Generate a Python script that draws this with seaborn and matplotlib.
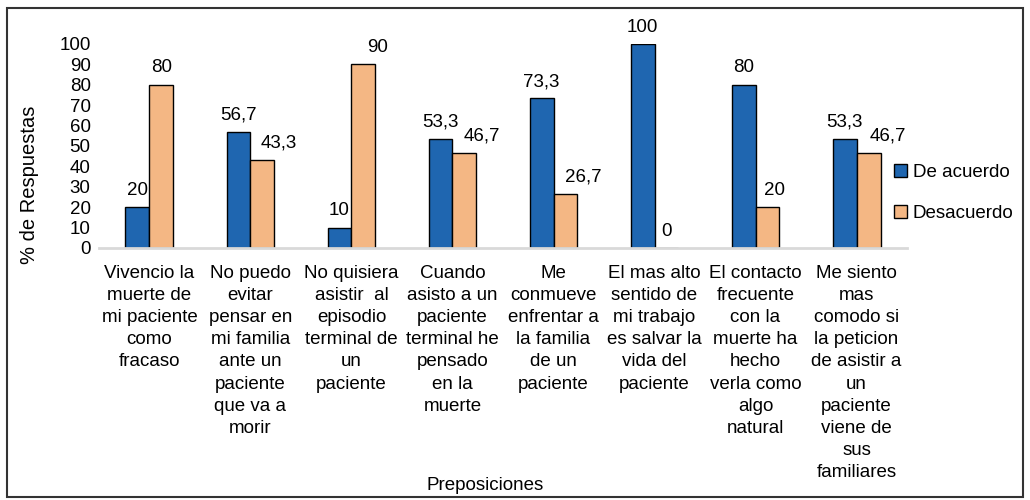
import matplotlib
matplotlib.use("Agg")
import matplotlib.pyplot as plt
from matplotlib.patches import Rectangle
import seaborn as sns
import pandas as pd

# data
categories = [
    "Vivencio la\nmuerte de\nmi paciente\ncomo\nfracaso",
    "No puedo\nevitar\npensar en\nmi familia\nante un\npaciente\nque va a\nmorir",
    "No quisiera\nasistir  al\nepisodio\nterminal de\nun\npaciente",
    "Cuando\nasisto a un\npaciente\nterminal he\npensado\nen la\nmuerte",
    "Me\nconmueve\nenfrentar a\nla familia\nde un\npaciente",
    "El mas alto\nsentido de\nmi trabajo\nes salvar la\nvida del\npaciente",
    "El contacto\nfrecuente\ncon la\nmuerte ha\nhecho\nverla como\nalgo\nnatural",
    "Me siento\nmas\ncomodo si\nla peticion\nde asistir a\nun\npaciente\nviene de\nsus\nfamiliares",
]
de_acuerdo = [20, 56.7, 10, 53.3, 73.3, 100, 80, 53.3]
desacuerdo = [80, 43.3, 90, 46.7, 26.7, 0, 20, 46.7]
series_names = ["De acuerdo", "Desacuerdo"]
colors = ["#1f66b0", "#f4b784"]

# horizontal nudge (pixels) of the value labels, as in the original
label_dx = [[0] * 8, [0, 16, 14, 17, 18, 0, 7, 19]]

df = pd.DataFrame({
    "cat": categories * 2,
    "serie": [series_names[0]] * len(categories) + [series_names[1]] * len(categories),
    "valor": de_acuerdo + desacuerdo,
})

sns.set_style("white")
plt.rcParams["font.family"] = ["Liberation Sans", "DejaVu Sans"]
plt.rcParams["font.size"] = 13.5
plt.rcParams["text.color"] = "black"
plt.rcParams["xtick.color"] = "black"
plt.rcParams["ytick.color"] = "black"

fig = plt.figure(figsize=(10.3, 5), dpi=100)
ax = fig.add_axes([0.0961, 0.504, 0.7845, 0.408])

sns.barplot(data=df, x="cat", y="valor", hue="serie", order=categories,
            hue_order=series_names, palette=colors, width=0.475,
            edgecolor="black", linewidth=1, saturation=1, ax=ax)

# value labels above the bars
for cont, dxs in zip(ax.containers, label_dx):
    for bar, v, dx in zip(cont.patches, cont.datavalues, dxs):
        lab = f"{v:g}".replace(".", ",")
        ax.annotate(lab, (bar.get_x() + bar.get_width() / 2, bar.get_height()),
                    xytext=(dx * 0.72, 6), textcoords="offset points",
                    ha="center", va="bottom", fontsize=13.5, annotation_clip=False)

ax.set_ylim(0, 100)
ax.set_yticks(range(0, 101, 10))
ax.set_xlim(-0.5, len(categories) - 0.5)
ax.set_xlabel("")
ax.set_ylabel("")
ax.tick_params(axis="both", length=0, labelsize=13.5)
ax.tick_params(axis="y", pad=6)
ax.tick_params(axis="x", pad=12)
for lab in ax.get_xticklabels():
    lab.set_multialignment("center")
    lab.set_linespacing(1.4)
for s in ["left", "right", "top"]:
    ax.spines[s].set_visible(False)
ax.spines["bottom"].set_color("#d9d9d9")
ax.spines["bottom"].set_linewidth(2)

leg = ax.legend(loc="center left", bbox_to_anchor=(0.868, 0.614),
                bbox_transform=fig.transFigure, frameon=False, fontsize=13.5,
                handlelength=0.7, handleheight=0.7, handletextpad=0.3,
                labelspacing=1.25, borderpad=0, borderaxespad=0)

fig.text(30 / 1030, 1 - 185 / 500, "% de Respuestas", rotation=90,
         ha="center", va="center", fontsize=14.5)
fig.text(485 / 1030, 1 - 485 / 500, "Preposiciones", ha="center",
         va="center", fontsize=13.5)

fig.patches.append(Rectangle((0.007, 0.006), 0.986, 0.978, transform=fig.transFigure,
                             fill=False, edgecolor="#333333", linewidth=1.5))

fig.savefig("out.png", dpi=100)
